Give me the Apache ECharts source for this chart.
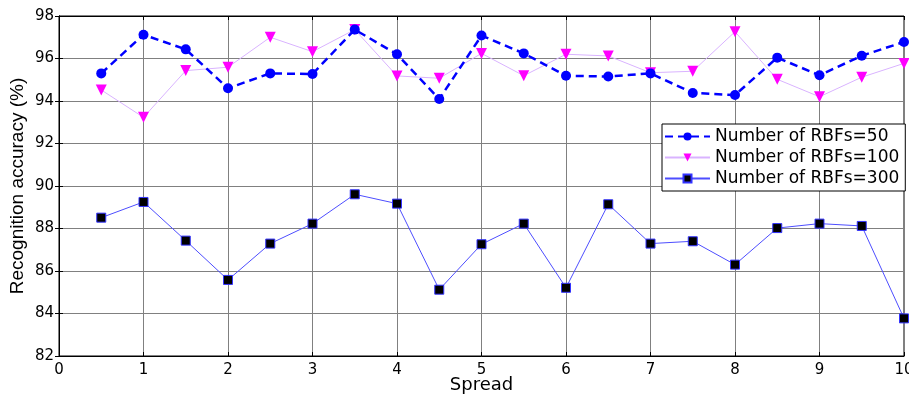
<!DOCTYPE html>
<html>
<head>
<meta charset="utf-8">
<script src="https://cdn.jsdelivr.net/npm/echarts@6/dist/echarts.min.js"></script>
<style>
  html, body { margin: 0; padding: 0; background: #fff; }
  #chart { width: 909px; height: 396px; }
</style>
</head>
<body>
<div id="chart"></div>
<script>
// spread values on x axis
const spread = [0.5, 1, 1.5, 2, 2.5, 3, 3.5, 4, 4.5, 5, 5.5, 6, 6.5, 7, 7.5, 8, 8.5, 9, 9.5, 10];
// recognition accuracy (%) for each RBF count
const rbf50 = [95.30, 97.12, 96.43, 94.60, 95.30, 95.27, 97.36, 96.20, 94.09, 97.08,
  96.24, 95.19, 95.15, 95.30, 94.38, 94.28, 96.04, 95.21, 96.13, 96.78];
const rbf100 = [94.52, 93.23, 95.43, 95.59, 97.00, 96.32, 97.36, 95.18, 95.07, 96.24,
  95.19, 96.20, 96.12, 95.33, 95.40, 97.26, 95.02, 94.20, 95.12, 95.77];
const rbf300 = [88.51, 89.25, 87.43, 85.58, 87.29, 88.23, 89.61, 89.17, 85.12, 87.26,
  88.23, 85.21, 89.14, 87.29, 87.40, 86.30, 88.02, 88.23, 88.12, 83.77];
const xTicks = [0, 10, 1];   // min, max, interval
const yTicks = [82, 98, 2];

function pairs(ys) {
  return spread.map((x, i) => [x, ys[i]]);
}

const chart = echarts.init(document.getElementById('chart'), null, { renderer: 'canvas' });
const wide = 'DejaVu Sans, sans-serif';
const narrow = 'Liberation Sans, Arial, sans-serif';

// plain mirror axis for the box ticks on top / right
function mirror(pos, t) {
  return {
    type: 'value', position: pos,
    min: t[0], max: t[1], interval: t[2],
    axisLine: { show: true, lineStyle: { color: '#000' } },
    axisTick: { show: true, inside: true, length: 4, lineStyle: { color: '#000' } },
    axisLabel: { show: false },
    splitLine: { show: false }
  };
}

const option = {
  animation: false,
  textStyle: { fontFamily: wide },
  grid: {
    left: 59, right: 5, top: 16, bottom: 40,
    outerBoundsMode: 'none',
    containLabel: false,
    show: true, borderColor: '#000', borderWidth: 1
  },
  legend: {
    orient: 'vertical',
    left: 662, top: 124,
    itemWidth: 45, itemHeight: 10, itemGap: 2,
    padding: [3, 6, 3, 2],
    borderColor: '#000', borderWidth: 1,
    backgroundColor: '#fff',
    textStyle: { fontSize: 17, lineHeight: 19, color: '#000', fontFamily: wide },
    data: ['Number of RBFs=50', 'Number of RBFs=100', 'Number of RBFs=300']
  },
  xAxis: [{
    type: 'value',
    min: xTicks[0], max: xTicks[1], interval: xTicks[2],
    name: 'Spread', nameLocation: 'middle', nameGap: 20,
    nameMoveOverlap: false,
    nameTextStyle: { fontSize: 18, color: '#000', fontFamily: wide },
    axisLine: { lineStyle: { color: '#000' } },
    axisTick: { inside: true, length: 4, lineStyle: { color: '#000' } },
    axisLabel: { fontSize: 15, color: '#000', margin: 7 },
    splitLine: { show: true, lineStyle: { color: '#808080', width: 1 } }
  }, mirror('top', xTicks)],
  yAxis: [{
    type: 'value',
    min: yTicks[0], max: yTicks[1], interval: yTicks[2],
    name: 'Recognition accuracy (%)', nameLocation: 'middle', nameGap: 32,
    nameMoveOverlap: false,
    nameTextStyle: { fontSize: 19, color: '#000', fontFamily: narrow },
    axisLine: { show: true, lineStyle: { color: '#000' } },
    axisTick: { show: true, inside: true, length: 4, lineStyle: { color: '#000' } },
    axisLabel: { fontSize: 15, color: '#000', margin: 5 },
    splitLine: { show: true, lineStyle: { color: '#808080', width: 1 } }
  }, mirror('right', yTicks)],
  series: [
    {
      name: 'Number of RBFs=50',
      type: 'line',
      data: pairs(rbf50),
      symbol: 'circle', symbolSize: 10,
      itemStyle: { color: '#0000ff' },
      lineStyle: { color: '#0000ff', width: 2.5, type: [8, 5] },
      z: 3
    },
    {
      name: 'Number of RBFs=100',
      type: 'line',
      data: pairs(rbf100),
      symbol: 'triangle', symbolRotate: 180, symbolSize: 11,
      itemStyle: { color: '#ff00ff' },
      lineStyle: { color: '#d9b3ff', width: 1 },
      z: 2
    },
    {
      name: 'Number of RBFs=300',
      type: 'line',
      data: pairs(rbf300),
      symbol: 'rect', symbolSize: 9,
      itemStyle: { color: '#000', borderColor: '#3333ff', borderWidth: 1 },
      lineStyle: { color: '#4d4dff', width: 1 },
      z: 2
    }
  ]
};
chart.setOption(option);
</script>
</body>
</html>
